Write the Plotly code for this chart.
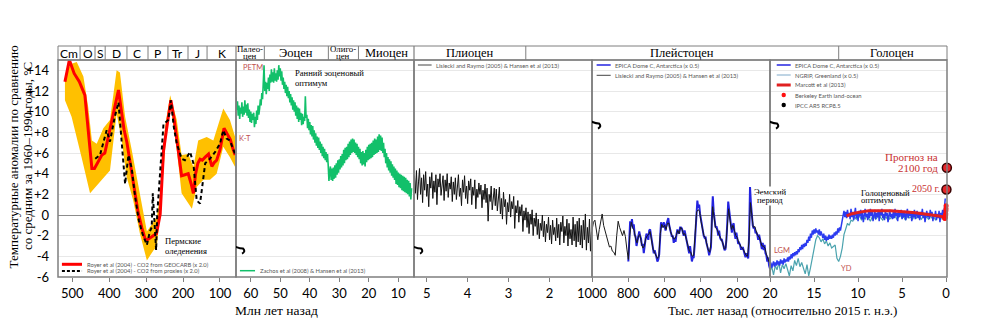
import numpy as np
import plotly.graph_objects as go

# ---------------- data ----------------
y_tick_vals = [14, 12, 10, 8, 6, 4, 2, 0, -2, -4, -6]
y_tick_text = ["+14", "+12", "+10", "+8", "+6", "+4", "+2", "0", "-2", "-4", "-6"]

p1_ticks = [500, 400, 300, 200, 100]
p2_ticks = [60, 50, 40, 30, 20, 10]
p3_ticks = [5, 4, 3, 2]
p4_ticks = [1000, 800, 600, 400, 200]
p5_ticks = [20, 15, 10, 5, 0]

period_names = ["Cm", "O", "S", "D", "C", "P", "Tr", "J", "K"]
period_bounds = [538.8, 479, 438.5, 411, 352, 295, 241, 186.6, 135, 56.6]
epoch_names_p2 = [["Палео-", "цен"], ["Эоцен"], ["Олиго-", "цен"], ["Миоцен"]]
epoch_bounds_p2 = [65.0, 55.4, 33.7, 23.5, 4.68]
pliocene_start = 5.31
pleistocene_start = 2.58
holocene_start = 12.2

# Royer et al (2004) GEOCARB (x2)
royer_age = [520, 508, 495, 481, 466, 455, 447, 440, 430, 420, 412, 402, 390, 380, 375, 368, 360, 352,
             340, 330, 322, 312, 303, 297, 285, 272, 262, 253, 242, 233, 225, 217, 210, 204, 195, 186,
             178, 172, 166, 160, 154, 148, 140, 131, 122, 115, 109, 100, 89, 80, 72, 64, 59]
royer_geocarb = [12.9, 15.0, 13.7, 12.9, 11.6, 7.5, 4.5, 4.5, 5.2, 5.8, 6.0, 7.6, 9.5, 11.0, 12.1, 10.3,
                 8.3, 7.0, 4.4, 1.8, 0.3, -1.2, -2.3, -2.4, -2.1, -1.8, 0.1, 6.2, 9.0, 11.1, 9.5, 7.5,
                 5.5, 3.8, 3.9, 4.0, 3.0, 2.1, 4.0, 5.0, 5.4, 5.3, 5.6, 5.9, 4.7, 5.1, 5.3, 6.3, 8.4,
                 7.8, 7.3, 6.3, 5.8]
band_hi_age = [520, 506, 488, 470, 457, 447, 434, 416, 398, 380, 371, 357, 339, 317, 298, 271, 260, 249,
               235, 217, 204, 186, 172, 159, 136, 118, 91, 73, 59]
band_hi = [13.3, 14.6, 14.8, 13.4, 10.45, 7.2, 6.9, 8.4, 9.2, 14.0, 13.8, 9.5, 6.3, 2.1, -1.6, -0.2, 2.5,
           8.5, 11.6, 9.2, 5.8, 5.9, 4.65, 7.2, 7.55, 7.2, 10.3, 9.2, 7.55]
band_lo_age = [520, 502, 475, 452, 438, 420, 398, 380, 366, 353, 335, 317, 298, 280, 271, 258, 244, 233,
               217, 204, 176, 163, 145, 127, 109, 91, 73, 59]
band_lo = [11.1, 9.5, 5.6, 2.1, 2.7, 3.4, 4.3, 9.8, 7.2, 3.7, 1.4, -1.8, -4.4, -3.4, -3.1, 2.0, 8.5, 10.45,
           6.3, 2.1, 0.6, 2.7, 3.4, 3.4, 4.0, 6.6, 5.6, 4.65]
# Royer proxies (x2)
proxy_age = [438, 425, 407, 398, 385, 375, 365, 357, 348, 339, 330, 320, 310, 298, 290, 285, 282, 278,
             273, 270, 262, 253, 240, 233, 225, 217, 204, 195, 181, 172, 163, 154, 140, 127, 113, 100,
             91, 82, 73, 65, 59]
proxy_val = [5.45, 5.8, 8.2, 7.1, 9.5, 10.9, 6.5, 3.0, 5.8, 4.5, 1.8, -0.5, -1.8, -2.9, -1.6, -1.2, 2.1,
             -0.7, -3.4, 0.1, 4.5, 8.8, 9.2, 11.1, 8.5, 6.9, 5.45, 5.3, 6.1, 5.0, 1.4, 1.1, 5.0, 5.45,
             6.1, 6.9, 8.2, 7.4, 7.2, 6.5, 5.9]

# Zachos (2008) & Hansen (2013), 65 Myr -> 5.5 Myr every 0.25 Myr
zachos_start, zachos_step = 65.0, 0.25
zachos = [11.4, 10.2, 11.0, 9.6, 10.6, 9.3, 10.4, 9.8,
          10.9, 9.5, 10.5, 9.7, 11.1, 9.9, 10.7, 9.6,
          10.8, 9.4, 10.2, 9.0, 10.0, 8.9, 9.8, 9.2,
          9.9, 8.5, 9.5, 8.8, 10.1, 9.2, 10.6, 9.7,
          10.3, 11.2, 10.6, 11.8, 11.2, 12.3, 14.5, 12.0,
          12.9, 11.7, 12.8, 12.2, 13.3, 12.0, 13.6, 12.8,
          14.1, 12.9, 13.8, 12.8, 14.2, 13.0, 13.7, 12.9,
          14.0, 13.1, 14.5, 13.4, 14.2, 13.0, 13.9, 12.6,
          13.3, 12.2, 12.9, 11.8, 12.6, 11.5, 12.4, 11.3,
          12.0, 10.9, 11.7, 10.6, 11.4, 10.2, 11.1, 10.0,
          10.9, 9.6, 10.6, 9.3, 10.4, 9.0, 10.3, 9.2,
          9.9, 8.7, 9.8, 8.8, 9.5, 9.1, 11.5, 9.4,
          9.7, 8.4, 9.3, 8.2, 9.0, 7.8, 8.7, 7.6,
          8.6, 7.3, 8.2, 7.0, 7.9, 6.7, 7.6, 6.5,
          7.5, 6.3, 7.1, 6.0, 6.9, 5.7, 6.6, 5.5,
          6.4, 5.3, 6.1, 5.1, 5.9, 4.8, 3.3, 4.2,
          4.7, 3.4, 4.5, 3.3, 4.6, 3.5, 4.8, 3.6,
          5.0, 3.9, 5.3, 4.1, 5.4, 4.4, 5.7, 4.6,
          5.9, 4.8, 6.3, 5.0, 6.5, 5.3, 6.6, 5.4,
          6.9, 5.6, 7.1, 5.8, 7.3, 6.0, 7.4, 6.1,
          7.3, 6.0, 7.0, 5.8, 6.9, 5.6, 6.6, 5.4,
          6.4, 5.0, 6.1, 4.8, 6.2, 4.9, 6.0, 4.7,
          6.3, 5.1, 6.6, 5.3, 6.8, 5.4, 6.9, 5.5,
          7.0, 5.6, 7.2, 5.8, 7.4, 5.9, 7.3, 6.0,
          7.6, 6.1, 7.8, 6.3, 7.7, 6.2, 7.5, 6.0,
          7.0, 5.6, 6.4, 5.0, 6.0, 4.6, 5.6, 4.3,
          5.4, 4.1, 5.2, 3.8, 4.9, 3.6, 4.7, 3.4,
          4.5, 3.0, 4.3, 2.9, 4.1, 2.7, 4.0, 2.6,
          3.9, 2.4, 3.8, 2.3, 3.7, 2.2, 3.6, 2.1,
          3.4, 2.0, 3.3, 1.8, 3.1, 1.5, 2.6]

# Lisiecki & Raymo (2005) & Hansen (2013), 5.3 Myr -> 1 Myr every 0.025 Myr
lr_p3_start, lr_p3_step = 5.3, 0.025
lr_p3 = [3.8, 2.1, 4.3, 1.5, 3.2, 4.5, 2.0, 3.6, 1.2, 3.9,
         2.4, 4.2, 1.8, 3.0, 0.8, 3.7, 2.6, 4.1, 1.6, 3.3,
         2.2, 3.9, 1.0, 3.5, 2.7, 4.0, 1.9, 2.9, 3.8, 1.4,
         3.4, 2.3, 4.0, 1.7, 3.1, 2.5, 3.7, 1.3, 3.2, 2.0,
         3.6, 1.5, 2.9, 3.9, 1.8, 2.6, 0.9, 3.4, 2.2, 3.8,
         1.6, 2.8, 1.1, 3.3, 2.4, 3.5, 1.0, 2.7, 1.9, 3.4,
         0.6, 2.5, 1.7, 3.1, 2.0, 2.9, 0.7, 2.4, 1.5, 3.0,
         1.2, 2.6, -0.6, 2.0, 1.3, 2.8, 0.5, 1.9, 2.6, 0.9,
         2.5, 0.4, 1.8, 2.7, 0.1, 1.6, -0.4, 2.2, 0.8, 1.5,
         -0.9, 1.2, 0.3, 2.0, -0.2, 1.3, 0.6, 1.8, -1.3, 0.9,
         0.2, 1.4, -0.7, 0.8, -0.1, 1.0, -1.6, 0.4, -0.5, 0.7,
         -1.2, 0.3, -1.8, 0.1, -0.9, 0.5, -2.0, -0.3, -1.1, 0.2,
         -1.9, -0.4, -2.3, -0.8, -1.5, 0.0, -2.1, -0.6, -2.6, -0.9,
         -1.7, -0.2, -2.4, -1.0, -2.8, -0.5, -1.9, -1.2, -2.5, -0.3,
         -2.2, -0.9, -2.9, -0.7, -1.6, -0.1, -2.7, -1.1, -2.0, -0.4,
         -3.0, -0.8, -2.3, -1.4, -2.9, -0.2, -2.5, -0.9, -3.1, -0.6,
         -2.6, -0.3, -2.9, -1.0, -3.2, -0.5, -2.4, 0.1, -3.4, -1.2, -2.7, -0.4, -3.5, -1.6]

# Lisiecki & Raymo in kyr, 1000 -> 24 kyr every 8 kyr
lr_p4_start, lr_p4_step = 1000, 8
lr_p4 = [-1.5, -0.7, -0.5, -1.6, -2.4, -1.4, -0.6, 0.1, -1.0, -1.5,
         -2.2, -2.6, -3.1, -3.0, -3.5, -3.6, -3.9, -2.0, -0.6, -1.2,
         -1.6, -2.0, -1.5, -2.1, -3.3, -4.3, -2.0, -0.7, -1.2, -1.5,
         -2.3, -2.7, -2.0, -1.9, -2.7, -3.2, -3.0, -2.3, -2.0, -1.9,
         -1.6, -2.4, -3.3, -3.6, -4.0, -4.2, -4.0, -1.8, -0.9, -1.2,
         -1.0, -1.4, -0.8, -0.8, -1.6, -2.0, -2.3, -2.3, -2.0, -1.5,
         -1.8, -1.2, -1.4, -1.9, -1.8, -2.4, -3.0, -3.5, -3.6, -4.0,
         -3.9, -2.0, 0.3, 0.5, 0.4, -0.6, -1.4, -2.0, -2.2, -2.9,
         -3.4, -3.6, -2.6, 0.8, 0.0, -1.2, -1.4, -1.8, -2.0, -2.4,
         -2.7, -3.3, -3.2, -1.0, 0.6, -0.5, -1.4, -1.0, -1.6, -2.0,
         -2.2, -2.7, -2.9, -3.2, -3.3, -3.7, -3.9, -4.0, -2.6, 1.2,
         -0.2, -1.2, -1.1, -1.6, -2.0, -2.1, -2.6, -3.0, -3.0, -3.2,
         -3.8, -4.2, -4.6]

# EPICA Dome C (x0.5), 800 -> 20 kyr every 5 kyr
epica_p4_start, epica_p4_step = 800, 5
epica_p4 = [-4.5, -3.0, -0.6, -1.1, -0.4, -1.3, -0.9, -1.9, -2.1, -3.0,
            -2.5, -2.2, -1.6, -2.0, -2.3, -3.0, -2.8, -3.7, -2.7, -2.3,
            -1.8, -2.0, -2.4, -1.5, -1.4, -2.1, -2.5, -3.3, -3.7, -3.4,
            -4.0, -4.1, -4.5, -4.3, -3.8, -2.0, -0.7, -1.0, -1.2, -0.7,
            -1.2, -1.5, -0.9, -0.6, -0.3, -1.0, -1.4, -2.0, -2.1, -2.0,
            -2.7, -2.2, -2.6, -1.9, -1.4, -1.7, -1.8, -1.2, -1.2, -1.3,
            -1.8, -2.0, -1.5, -2.0, -2.3, -3.0, -3.2, -3.7, -3.0, -4.0,
            -4.5, -4.1, -4.1, -3.0, -1.2, 0.3, 1.4, 0.7, 1.0, 0.1,
            -0.5, -1.1, -1.5, -2.0, -2.2, -2.1, -2.7, -3.3, -3.4, -3.9,
            -3.5, -3.1, -0.4, 1.8, 0.3, -0.7, -1.2, -1.1, -1.4, -2.0,
            -1.5, -2.2, -2.4, -2.4, -2.7, -3.2, -3.4, -3.3, -2.4, -0.7,
            1.3, 0.5, -0.5, -1.1, -1.7, -1.0, -0.8, -1.8, -2.3, -1.7,
            -2.5, -2.8, -2.7, -2.9, -3.3, -3.3, -3.1, -3.5, -4.0, -4.1,
            -3.7, -4.1, -4.2, -2.0, 2.7, 1.1, -0.2, -1.0, -1.3, -1.2,
            -1.7, -1.7, -1.9, -2.4, -1.9, -2.6, -2.8, -3.3, -2.7, -3.4,
            -2.9, -3.7, -3.9, -4.5, -4.1, -4.9, -5.2]

# EPICA Dome C (x0.5), 20 -> 0.1 kyr every 0.1 kyr
epica_p5_start, epica_p5_step = 20.0, 0.1
epica_p5 = [-4.9, -4.6, -5.1, -4.7, -4.5, -5.0, -4.6, -4.9, -4.4, -4.8,
            -4.5, -4.9, -4.3, -4.7, -4.4, -4.8, -4.2, -4.6, -4.3, -4.5,
            -4.1, -4.5, -4.0, -4.3, -3.8, -4.2, -3.7, -4.0, -3.6, -3.9,
            -3.5, -3.8, -3.3, -3.6, -3.1, -3.4, -2.9, -3.3, -2.8, -3.1,
            -2.7, -3.0, -2.4, -2.7, -2.1, -2.5, -1.8, -2.2, -1.5, -1.9,
            -1.4, -1.8, -1.3, -1.7, -1.5, -1.9, -1.4, -2.0, -1.6, -1.9,
            -2.2, -1.8, -2.4, -2.0, -2.5, -2.1, -2.4, -1.9, -2.3, -2.0,
            -2.3, -1.9, -2.2, -1.7, -2.0, -1.6, -1.9, -1.3, -1.7, -1.2,
            -1.5, -1.0, -0.6, -0.1, 0.4, -0.2, 0.3, -0.3, 0.5, -0.1,
            0.2, -0.4, 0.6, -0.2, 0.3, -0.5, 0.1, 0.7, -0.3, 0.2,
            -0.6, 0.4, -0.1, 0.5, -0.4, 0.2, -0.7, 0.3, 0.6, -0.2,
            0.1, -0.5, 0.4, -0.3, 0.6, -0.1, 0.3, -0.6, 0.2, 0.5,
            -0.4, 0.2, -0.2, 0.5, -0.6, 0.3, 0.0, 0.6, -0.3, 0.1,
            -0.5, 0.4, -0.1, 0.2, -0.7, 0.3, 0.5, -0.2, 0.1, -0.4,
            0.3, -0.3, 0.6, -0.1, 0.2, -0.6, 0.4, -0.2, 0.1, 0.5,
            -0.4, 0.2, -0.2, 0.4, -0.5, 0.1, 0.6, -0.3, 0.2, -0.1,
            0.3, -0.6, 0.2, -0.2, 0.5, -0.4, 0.1, 0.4, -0.3, 0.2,
            -0.5, 0.3, -0.1, 0.6, -0.3, 0.2, -0.7, 0.1, 0.4, -0.2,
            0.2, -0.4, 0.5, -0.1, 0.3, -0.6, 0.1, -0.2, 0.4, -0.5,
            0.1, -0.3, 0.4, -0.7, 0.2, -0.2, 0.5, -0.4, 0.3, 1.6]

# NGRIP Greenland (x0.5), 20 -> 0.2 kyr every 0.2 kyr
ngrip_start, ngrip_step = 20.0, 0.2
ngrip = [-5.5, -5.0, -5.8, -4.9, -5.3, -4.6, -5.6, -4.8, -5.2, -4.7,
         -5.3, -5.9, -4.9, -5.4, -4.4, -4.9, -4.2, -5.0, -4.6, -5.2,
         -5.7, -4.8, -5.9, -5.1, -4.2, -3.5, -2.4, -2.0, -2.2, -2.6,
         -2.3, -2.8, -2.5, -3.0, -2.7, -3.2, -3.0, -2.9, -4.2, -4.5,
         -4.0, -3.2, -1.9, -1.4, -0.8, -1.0, -0.5, -0.6, -0.2, -0.4,
         -0.3, -0.1, -0.5, -0.2, -0.4, 0.0, -0.3, -0.6, -0.2, -0.1,
         -0.4, -0.2, 0.0, -0.3, -0.5, -0.1, -0.3, 0.0, -0.4, -0.2,
         -0.3, -0.1, -0.4, -0.2, 0.0, -0.3, -0.2, -0.5, -0.1, -0.3,
         -0.2, -0.4, -0.1, -0.3, 0.0, -0.2, -0.4, -0.1, -0.3, -0.2,
         -0.4, -0.1, -0.3, -0.2, -0.5, -0.1, -0.2, -0.4, 0.0, -0.3]

# Marcott et al (2013)
marcott_age = [11.3, 10.8, 10.3, 9.8, 9.3, 8.8, 8.3, 7.8, 7.3, 6.8, 6.3, 5.8, 5.3, 4.8, 4.3, 3.8, 3.3,
               2.8, 2.3, 1.8, 1.3, 0.8, 0.3, 0.1]
marcott_val = [-0.1, 0.1, 0.2, 0.3, 0.35, 0.4, 0.42, 0.43, 0.43, 0.42, 0.4, 0.38, 0.35, 0.32, 0.28, 0.24,
               0.2, 0.15, 0.1, 0.05, 0.0, -0.1, -0.2, -0.15]
# Berkeley Earth land-ocean
berkeley_age = [0.165, 0.15, 0.135, 0.12, 0.105, 0.09, 0.075, 0.06, 0.045, 0.03, 0.015, 0.005]
berkeley_val = [-0.3, -0.2, -0.35, -0.25, -0.1, -0.2, 0.0, -0.05, 0.1, 0.4, 0.6, 0.9]
# IPCC AR5 RCP8.5 (2050, 2100)
ipcc_age = [-0.035, -0.085]
ipcc_val = [2.46, 4.57]

# ---------------- layout helpers ----------------
W, H = 1000, 322
ML, MR, MT, MB = 58, 53, 60, 45
PW, PH = W - ML - MR, H - MT - MB
panel_px = [58, 236, 414, 592, 770, 947]
domains = [[(panel_px[i] - ML) / PW, (panel_px[i + 1] - ML) / PW] for i in range(5)]
ranges = [[538.8, 56.6], [65.0, 4.68], [5.31, 0.963], [1000, 20], [20, -0.1]]
ticks = [p1_ticks, p2_ticks, p3_ticks, p4_ticks, p5_ticks]
xr = ["x", "x2", "x3", "x4", "x5"]

SERIF = "Liberation Serif, Times New Roman, serif"
SANS = "Lato, Calibri, Arial, sans-serif"
GREY = "#7f7f7f"
ANN_RED = "#C0504D"


def to_paper_x(i, v):
    r0, r1 = ranges[i]
    px = panel_px[i] + (v - r0) / (r1 - r0) * (panel_px[i + 1] - panel_px[i])
    return (px - ML) / PW


def py_to_paper(py):
    return (H - MB - py) / PH


fig = go.Figure()

# panel 1
fig.add_trace(go.Scatter(x=band_hi_age + band_lo_age[::-1], y=band_hi + band_lo[::-1], fill="toself",
                         fillcolor="#FFC000", line=dict(width=0), mode="lines", xaxis="x", yaxis="y",
                         hoverinfo="skip"))
fig.add_trace(go.Scatter(x=royer_age, y=royer_geocarb, mode="lines", line=dict(color="#FF0000", width=3),
                         xaxis="x", yaxis="y"))
fig.add_trace(go.Scatter(x=proxy_age, y=proxy_val, mode="lines",
                         line=dict(color="#000000", width=2, dash="4px,3px"), xaxis="x", yaxis="y"))
# panel 2
fig.add_trace(go.Scatter(x=zachos_start - zachos_step * np.arange(len(zachos)), y=zachos, mode="lines",
                         line=dict(color="#12C06A", width=1.6), xaxis="x2", yaxis="y"))
# panel 3
fig.add_trace(go.Scatter(x=lr_p3_start - lr_p3_step * np.arange(len(lr_p3)), y=lr_p3, mode="lines",
                         line=dict(color="#111111", width=1), xaxis="x3", yaxis="y"))
# panel 4
fig.add_trace(go.Scatter(x=epica_p4_start - epica_p4_step * np.arange(len(epica_p4)), y=epica_p4,
                         mode="lines", line=dict(color="#2323E0", width=2), xaxis="x4", yaxis="y"))
fig.add_trace(go.Scatter(x=lr_p4_start - lr_p4_step * np.arange(len(lr_p4)), y=lr_p4, mode="lines",
                         line=dict(color="#1a1a1a", width=1), xaxis="x4", yaxis="y"))
# panel 5
fig.add_trace(go.Scatter(x=ngrip_start - ngrip_step * np.arange(len(ngrip)), y=ngrip, mode="lines",
                         line=dict(color="#4BA3AE", width=1.2), xaxis="x5", yaxis="y"))
fig.add_trace(go.Scatter(x=epica_p5_start - epica_p5_step * np.arange(len(epica_p5)), y=epica_p5,
                         mode="lines", line=dict(color="#2B3BF0", width=1.5), xaxis="x5", yaxis="y"))
fig.add_trace(go.Scatter(x=marcott_age, y=marcott_val, mode="lines", line=dict(color="#E02020", width=3),
                         xaxis="x5", yaxis="y"))
fig.add_trace(go.Scatter(x=berkeley_age, y=berkeley_val, mode="markers",
                         marker=dict(color="#FF1010", size=5), xaxis="x5", yaxis="y", cliponaxis=False))
fig.add_trace(go.Scatter(x=ipcc_age, y=ipcc_val, mode="markers",
                         marker=dict(color="#E4262B", size=9, line=dict(color="#3a0000", width=1.5)),
                         xaxis="x5", yaxis="y", cliponaxis=False))

layout = dict(width=W, height=H, margin=dict(l=ML, r=MR, t=MT, b=MB), paper_bgcolor="white",
              plot_bgcolor="white", showlegend=False)
for i in range(5):
    key = "xaxis" if i == 0 else f"xaxis{i + 1}"
    layout[key] = dict(domain=domains[i], range=ranges[i], anchor="y", tickvals=ticks[i], ticks="outside",
                       ticklen=4, tickcolor=GREY, tickwidth=1, showgrid=False, zeroline=False,
                       showline=False, tickfont=dict(family=SANS, size=13, color="#000"),
                       ticklabelstandoff=0)
layout["yaxis"] = dict(domain=[0, 1], range=[-6, 15], anchor="x", tickvals=y_tick_vals,
                       ticktext=y_tick_text, showgrid=True, gridcolor="#e8e8e8", gridwidth=1,
                       zeroline=True, zerolinecolor="#8c8c8c", zerolinewidth=1.3, ticks="",
                       showline=False, tickfont=dict(family=SANS, size=13, color="#000"),
                       ticklabelstandoff=8)
fig.update_layout(**layout)

shapes = []
annotations = []

# panel frames
for i in range(5):
    shapes.append(dict(type="rect", xref=f"{xr[i]} domain", yref="y domain", x0=0, x1=1, y0=0, y1=1,
                       line=dict(color=GREY, width=1.5), layer="above"))


def paper_text(x, y, text, size, family, xref="paper", textangle=0):
    annotations.append(dict(xref=xref, yref="paper", x=x, y=y, text=text, showarrow=False,
                            xanchor="center", yanchor="middle", textangle=textangle,
                            font=dict(family=family, size=size, color="#000")))


# header
hy0, hy1 = 1.0, py_to_paper(46)
hmid = py_to_paper(53)
shapes.append(dict(type="rect", xref="paper", yref="paper", x0=0, x1=1, y0=hy0, y1=hy1,
                   line=dict(color=GREY, width=1)))
for b in period_bounds[1:-1]:
    shapes.append(dict(type="line", xref="x", yref="paper", x0=b, x1=b, y0=hy0, y1=hy1,
                       line=dict(color=GREY, width=1)))
for k, name in enumerate(period_names):
    paper_text((period_bounds[k] + period_bounds[k + 1]) / 2, hmid, name, 12, SANS, xref="x")
for xp in [domains[1][0], domains[2][0]]:
    shapes.append(dict(type="line", xref="paper", yref="paper", x0=xp, x1=xp, y0=hy0, y1=hy1,
                       line=dict(color=GREY, width=1.2)))
for b in epoch_bounds_p2[1:-1]:
    shapes.append(dict(type="line", xref="x2", yref="paper", x0=b, x1=b, y0=hy0, y1=hy1,
                       line=dict(color=GREY, width=1)))
for k, lines in enumerate(epoch_names_p2):
    xc = (epoch_bounds_p2[k] + epoch_bounds_p2[k + 1]) / 2
    if len(lines) == 1:
        paper_text(xc, hmid, lines[0], 12.5, SERIF, xref="x2")
    else:
        for ln, pyy in zip(lines, [49.0, 56.0]):
            paper_text(xc, py_to_paper(pyy), ln, 8.8, SERIF, xref="x2")
shapes.append(dict(type="line", xref="x3", yref="paper", x0=pleistocene_start, x1=pleistocene_start,
                   y0=hy0, y1=hy1, line=dict(color=GREY, width=1)))
shapes.append(dict(type="line", xref="x5", yref="paper", x0=holocene_start, x1=holocene_start,
                   y0=hy0, y1=hy1, line=dict(color=GREY, width=1)))
paper_text((pliocene_start + pleistocene_start) / 2, hmid, "Плиоцен", 12.5, SERIF, xref="x3")
paper_text((to_paper_x(2, pleistocene_start) + to_paper_x(4, holocene_start)) / 2, hmid, "Плейстоцен",
           12.5, SERIF)
paper_text(holocene_start / 2, hmid, "Голоцен", 12.5, SERIF, xref="x5")

# legends (inside panels)
LEG_FONT = dict(family=SANS, size=5.8, color="#555555")


def legend_entry(ax, x0, x1, xt, py, text, color, width, dash="solid", dot=False):
    yy = py_to_paper(py)
    if dot:
        shapes.append(dict(type="circle", xref=f"{ax} domain", yref="y domain", xsizemode="pixel",
                           ysizemode="pixel", xanchor=(x0 + x1) / 2, yanchor=yy, x0=-2.2, x1=2.2,
                           y0=-2.2, y1=2.2, fillcolor=color, line=dict(width=0)))
    else:
        shapes.append(dict(type="line", xref=f"{ax} domain", yref="y domain", x0=x0, x1=x1, y0=yy, y1=yy,
                           line=dict(color=color, width=width, dash=dash)))
    annotations.append(dict(xref=f"{ax} domain", yref="y domain", x=xt, y=yy, text=text, showarrow=False,
                            xanchor="left", yanchor="middle", font=LEG_FONT))


legend_entry("x", 0.022, 0.135, 0.152, 264.3, "Royer et al (2004) - CO2 from GEOCARB (x 2.0)", "#FF0000", 3)
legend_entry("x", 0.022, 0.135, 0.152, 270.9, "Royer et al (2004) - CO2 from proxies (x 2.0)", "#000", 2,
             dash="3px,2px")
legend_entry("x2", 0.022, 0.107, 0.122, 270.7, "Zachos et al (2008) &amp; Hansen et al (2013)", "#12C06A",
             1.5)
legend_entry("x3", 0.022, 0.099, 0.112, 65, "Lisiecki and Raymo (2005) &amp; Hansen et al (2013)",
             "#444", 1)
legend_entry("x4", 0.026, 0.105, 0.118, 65, "EPICA Dome C, Antarctica (x 0.5)", "#2323E0", 1.5)
legend_entry("x4", 0.026, 0.105, 0.118, 75.3, "Lisiecki and Raymo (2005) &amp; Hansen et al (2013)",
             "#444", 1)
legend_entry("x5", 0.038, 0.117, 0.131, 65, "EPICA Dome C, Antarctica (x 0.5)", "#2323E0", 1.5)
legend_entry("x5", 0.038, 0.117, 0.131, 75, "NGRIP, Greenland (x 0.5)", "#7FA9C9", 1)
legend_entry("x5", 0.038, 0.117, 0.131, 85, "Marcott et al (2013)", "#E02020", 3)
legend_entry("x5", 0.038, 0.117, 0.131, 95, "Berkeley Earth land-ocean", "#FF1010", 0, dot=True)
legend_entry("x5", 0.038, 0.117, 0.131, 105, "IPCC AR5 RCP8.5", "#000", 0, dot=True)

# break squiggles
SQ = "M -8,2 Q -5,4 -1,2 Q 4,0 7,0 Q 10,-3 6,-5"
for ax, xv, yv in [("x2", 65.0, -3.25), ("x3", 5.31, -3.25), ("x4", 1000, 8.85), ("x5", 20, 8.85)]:
    shapes.append(dict(type="path", xref=ax, yref="y", xsizemode="pixel", ysizemode="pixel", xanchor=xv,
                       yanchor=yv, path=SQ, line=dict(color="#000", width=2), layer="above"))
# broken axis mark at bottom
shapes.append(dict(type="path", xref="x3", yref="y", xsizemode="pixel", ysizemode="pixel",
                   xanchor=ranges[2][1], yanchor=-6, path="M -1,-1 L -23.4,-19.3",
                   line=dict(color="#000", width=2)))
shapes.append(dict(type="path", xref="x3", yref="y", xsizemode="pixel", ysizemode="pixel",
                   xanchor=ranges[2][1], yanchor=-6, path="M -23.4,-19.3 L -22,-39.5",
                   line=dict(color="#000", width=4)))


# text annotations
def txt(ax, x, y, text, size, color="#000", family=SERIF, xanchor="center", bg=None):
    d = dict(xref=ax, yref="y", x=x, y=y, text=text, showarrow=False, xanchor=xanchor, yanchor="middle",
             font=dict(family=family, size=size, color=color))
    if bg:
        d["bgcolor"] = bg
        d["borderpad"] = 0
    annotations.append(d)


NOTE = 8.6
RED_TXT = "#C8302F"
txt("x2", 59.2, 14.3, "PETM", 7.5, ANN_RED, SANS)
txt("x2", 62.1, 7.4, "K-T", 7.5, ANN_RED, SANS)
txt("x2", 45.7, 13.7, "Ранний эоценовый", NOTE, xanchor="left")
txt("x2", 45.7, 12.75, "оптимум", NOTE, xanchor="left")
txt("x", 254, -2.5, "Пермские", NOTE, xanchor="left")
txt("x", 254, -3.45, "оледенения", NOTE, xanchor="left")
txt("x5", 20, 2.2, "Эемский", NOTE, bg="white")
txt("x5", 20, 1.5, "период", NOTE, bg="white")
txt("x5", 18.6, -3.48, "LGM", 7.5, ANN_RED, SANS)
txt("x5", 11.26, -5.19, "YD", 7.5, ANN_RED, SANS)
txt("x5", 9.94, 2.13, "Голоценовый", NOTE, xanchor="left")
txt("x5", 9.94, 1.49, "оптимум", NOTE, xanchor="left")
txt("x5", 0.73, 5.62, "Прогноз на", 11, RED_TXT, xanchor="right")
txt("x5", 0.73, 4.59, "2100 год", 11, RED_TXT, xanchor="right")
txt("x5", 0.45, 2.6, "2050 г.", 10, RED_TXT, xanchor="right")

# axis titles
paper_text((276.5 - ML) / PW, py_to_paper(310.7), "Млн лет назад", 13.5, SERIF)
paper_text((782.5 - ML) / PW, py_to_paper(310.7), "Тыс. лет назад (относительно 2015 г. н.э.)", 13, SERIF)
paper_text((13 - ML) / PW, py_to_paper(156.5), "Температурные аномалии по сравнению", 13, SERIF,
           textangle=-90)
paper_text((27.5 - ML) / PW, py_to_paper(156.5), "со средним за 1960–1990 годы, °С", 13, SERIF,
           textangle=-90)

fig.update_layout(shapes=shapes, annotations=annotations)
fig.write_html("out.html")
